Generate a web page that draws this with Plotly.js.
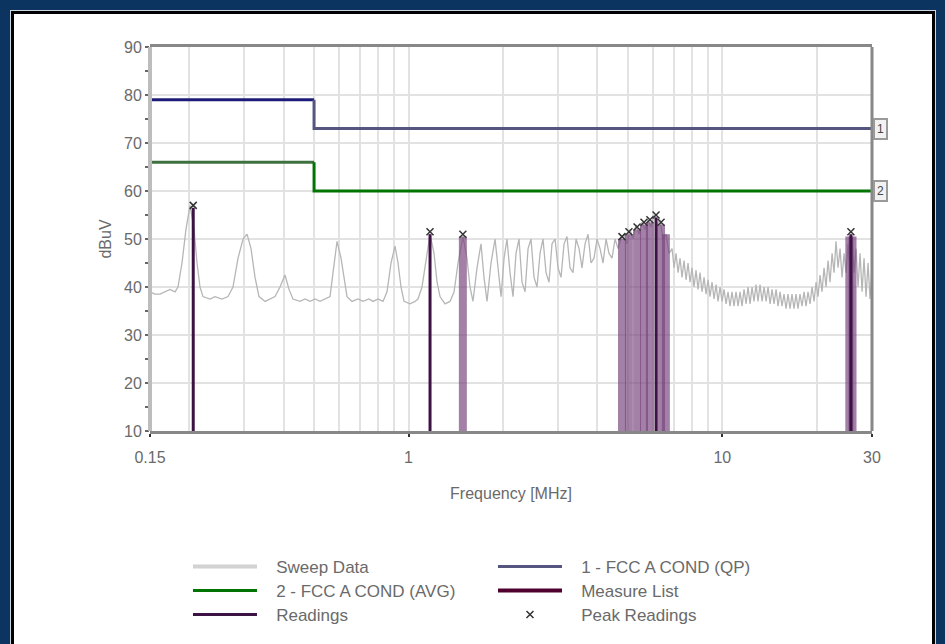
<!DOCTYPE html>
<html><head><meta charset="utf-8">
<script src="https://cdn.plot.ly/plotly-3.0.1.min.js"></script>
<style>
html,body{margin:0;padding:0;width:945px;height:644px;overflow:hidden;background:#0b3461;}
#frame{position:absolute;left:11px;top:11px;width:918px;height:640px;background:#fff;border:3px solid #000;box-shadow:0 0 0 1px #cfd6de;}
#chart{position:absolute;left:0;top:0;width:945px;height:644px;}
</style></head><body>
<div id="frame"></div><div id="chart"></div>
<script>
// ---- data (MHz / dBuV) ----
const sweepFreq = [0.150,0.1556,0.1614,0.1675,0.1737,0.1802,0.1842,0.1897,0.1953,0.2012,0.2072,0.2118,0.2165,0.2213,0.2330,0.2417,0.2544,0.2659,0.2758,0.2862,0.2969,0.3057,0.3148,0.3242,0.3338,0.3489,0.3619,0.3755,0.3894,0.4040,0.4160,0.4284,0.4510,0.4679,0.4853,0.5035,0.5223,0.5419,0.5621,0.5746,0.5918,0.6094,0.6230,0.6368,0.6605,0.6903,0.7161,0.7483,0.7706,0.7995,0.8293,0.8540,0.8794,0.9057,0.9259,0.9464,0.9676,1.011,1.049,1.072,1.104,1.137,1.171,1.206,1.233,1.260,1.307,1.356,1.397,1.438,1.492,1.536,1.570,
1.605,1.653,1.702,1.740,1.779,1.832,1.887,1.929,1.972,2.016,2.060,2.106,2.153,2.201,2.250,2.300,2.352,2.404,2.457,2.512,2.568,2.625,2.683,2.743,2.804,2.866,2.931,2.996,3.062,3.131,3.200,3.271,3.344,3.419,3.495,3.572,3.652,3.734,3.816,3.901,3.988,4.077,4.168,4.261,4.355,4.452,4.552,4.653,4.757,
4.863,4.971,5.081,5.194,5.310,5.428,5.549,5.673,5.799,5.928,6.060,6.195,6.333,6.474,6.618,6.765,
6.916,7.019,7.122,7.228,7.334,7.442,7.553,7.665,7.778,7.892,8.009,8.128,8.248,8.370,8.493,8.619,8.747,8.876,9.008,9.140,9.275,9.413,9.552,9.694,9.836,9.982,10.13,10.28,10.43,10.585,10.74,10.90,11.06,11.23,11.39,11.56,11.73,11.91,12.08,12.26,12.44,12.62,12.81,13.00,13.19,13.39,13.59,13.79,13.99,14.20,14.41,14.62,14.84,15.06,15.28,15.50,15.73,15.97,16.20,16.44,16.68,16.93,17.18,17.43,17.69,17.95,18.22,18.49,18.76,19.04,19.32,19.61,19.90,20.19,20.49,20.79,21.10,21.41,21.73,22.05,22.38,22.71,23.04,23.38,23.73,24.08,24.44,24.80,25.16,25.54,25.91,26.30,26.69,27.08,27.48,27.89,28.30,28.72,29.14,29.57,30.0];
const sweepLevel = [39,38.5,38.5,39,39.5,39,40,45,52,57,52,45,40,38,37.5,38,37.5,38,40,46,50,51,48,42,38,37,37.5,38,40,42.5,39.5,37.5,37,37.5,37,37.5,37,37.5,38,43,49.5,46,42,38,37,37.5,37,37.5,37,37.5,37,39,45,48.5,45,40,37,36.5,37,37.5,40,46,51,47,41,38,36.5,37,39,45,50.5,46,40,
37,44,49,42,37,45,50,44,38,46,50,43,38,47,50,41,39,48,50,42,40,47,50,43,41,49,50,44,42,49,50.5,44,43,50,48,44,49,51,45,46,50,48,45,50,47,46,50,48,50,
51,49,52,50,53,51,53.5,52,54,52.5,55,53,54,50,51,47,
48,44,47,43,46,42,45.5,41.5,45,41,44,40,43.5,39.5,43,39,42,38.5,41.5,38,41,37.5,40.5,37,40,37,39.5,36.5,39,36,39,36,39,36,39,36,39.5,36.5,40,36.5,40,37,40.5,37,40.5,37,40,37,40,36.5,39.5,36.5,39.5,36,39,36,38.5,35.5,38.5,35.5,38.5,35.5,38.5,35.5,38.5,36,39,36,39,36.5,40,37,41,38,42.5,39,44,40,45.5,41,47,43,49.5,44,48,42,47,43,49,44,50,43,48,40,47,39,46,38,45,37.5,44];
const qpFreq = [0.15, 0.5, 0.5, 30];
const qpLevel = [79, 79, 73, 73];
const avgFreq = [0.15, 0.5, 0.5, 30];
const avgLevel = [66, 66, 60, 60];
const readFreq = [0.206, 1.171, 6.15, 25.7];
const readLevel = [56.5, 51, 54.5, 51];
const measFreq = [1.49, 4.79, 5.04, 5.35, 5.63, 5.88, 6.38, 6.61, 25.4, 26.0];
const measLevel = [50.5, 50, 51, 52, 53, 53.5, 53, 51, 50.5, 50.5];
const peakFreq = [0.206, 1.171, 1.49, 4.79, 5.04, 5.35, 5.63, 5.88, 6.15, 6.38, 25.7];
const peakLevel = [57, 51.5, 51, 50.5, 51.5, 52.5, 53.5, 54, 55, 53.5, 51.5];
const floorLevel = 10;
const xTicks = [0.15, 1, 10, 30];
const xTickText = ['0.15', '1', '10', '30'];
const xMinorGrid = [0.2,0.3,0.4,0.5,0.6,0.7,0.8,0.9,2,3,4,5,6,7,8,9,20];
const limitLabels = ['1', '2'];
const legendNames = ['Sweep Data', '1 - FCC A COND (QP)', '2 - FCC A COND (AVG)', 'Measure List', 'Readings', 'Peak Readings'];

function sticks(fs, ls) {
  const x = [], y = [];
  fs.forEach((f, i) => { x.push(f, f, null); y.push(floorLevel, ls[i], null); });
  return {x, y};
}
const rd = sticks(readFreq, readLevel);
const ms = sticks(measFreq, measLevel);
const pad = s => '\u00a0\u00a0\u00a0' + s;

const FONT = 'Liberation Sans, Arial, sans-serif';
const TXT = '#6a6a6a';
const traces = [
  {x: sweepFreq, y: sweepLevel, mode: 'lines', line: {color: '#b6b6b6', width: 1.3}, showlegend: false, hoverinfo: 'skip'},
  {x: [null], y: [null], mode: 'lines', name: pad(legendNames[0]), line: {color: '#d2d2d2', width: 4}, legend: 'legend'},
  {x: qpFreq.slice(0, 2), y: qpLevel.slice(0, 2), mode: 'lines', line: {color: '#1c1c78', width: 3}, showlegend: false},
  {x: qpFreq.slice(1), y: qpLevel.slice(1), mode: 'lines', name: pad(legendNames[1]), line: {color: '#55557f', width: 3}, legend: 'legend'},
  {x: avgFreq.slice(0, 2), y: avgLevel.slice(0, 2), mode: 'lines', line: {color: '#3e7040', width: 3}, showlegend: false},
  {x: avgFreq.slice(1), y: avgLevel.slice(1), mode: 'lines', name: pad(legendNames[2]), line: {color: '#007400', width: 3}, legend: 'legend2'},
  {x: ms.x, y: ms.y, mode: 'lines', line: {color: 'rgba(120,70,126,0.68)', width: 8}, showlegend: false},
  {x: [null], y: [null], mode: 'lines', name: pad(legendNames[3]), line: {color: '#50002e', width: 4}, legend: 'legend2'},
  {x: rd.x, y: rd.y, mode: 'lines', name: pad(legendNames[4]), line: {color: '#3c1244', width: 3}, legend: 'legend3'},
  {x: peakFreq, y: peakLevel, mode: 'markers', name: pad(legendNames[5]), marker: {symbol: 'x-thin', size: 7, line: {color: '#333', width: 1.5}}, legend: 'legend3'}
];

const legBase = {orientation: 'h', xanchor: 'left', yanchor: 'middle', x: 0.0526, bgcolor: 'rgba(0,0,0,0)',
  font: {family: FONT, size: 17, color: TXT}, itemwidth: 64, entrywidth: 226, entrywidthmode: 'pixels', traceorder: 'normal'};

const layout = {
  width: 945, height: 644,
  margin: {l: 150, r: 73, t: 47, b: 212},
  paper_bgcolor: 'rgba(0,0,0,0)', plot_bgcolor: '#fff',
  font: {family: FONT, size: 16, color: TXT},
  xaxis: {type: 'log', range: [Math.log10(0.15), Math.log10(30)], tickvals: xTicks, ticktext: xTickText,
    showgrid: true, gridcolor: '#e2e2e2', gridwidth: 2, zeroline: false,
    ticks: 'outside', ticklen: 3, tickwidth: 2, tickcolor: '#333', ticklabelstandoff: 7,
    tickfont: {size: 16, color: TXT},
    showline: true, linecolor: '#888', linewidth: 3, mirror: true,
    minor: {tickvals: xMinorGrid, showgrid: true, gridcolor: '#e2e2e2', gridwidth: 2, ticks: ''},
    title: {text: 'Frequency [MHz]', standoff: 23, font: {size: 16, color: TXT}}},
  yaxis: {range: [10, 90], dtick: 10, showgrid: true, gridcolor: '#e2e2e2', gridwidth: 2, zeroline: false,
    ticks: 'outside', ticklen: 4, tickwidth: 2, tickcolor: '#666', showline: false,
    tickfont: {size: 16, color: TXT},
    minor: {dtick: 5, ticks: 'outside', ticklen: 4, tickwidth: 2, tickcolor: '#666', showgrid: false},
    title: {text: 'dBuV', standoff: 8, font: {size: 16, color: TXT}}},
  shapes: [
    {type: 'line', xref: 'paper', yref: 'paper', x0: 0, x1: 0, y0: 0, y1: 1, line: {color: '#bdbdbd', width: 4}},
    {type: 'line', xref: 'paper', yref: 'paper', x0: 1, x1: 1, y0: 0, y1: 1, line: {color: '#888', width: 3}}
  ],
  annotations: [
    {xref: 'paper', x: 1, xanchor: 'left', xshift: 1, y: qpLevel[3], yref: 'y', text: limitLabels[0], showarrow: false,
     bgcolor: '#f2f2f2', bordercolor: '#9a9a9a', borderwidth: 2, borderpad: 2, font: {size: 12, color: '#444'}},
    {xref: 'paper', x: 1, xanchor: 'left', xshift: 1, y: avgLevel[3], yref: 'y', text: limitLabels[1], showarrow: false,
     bgcolor: '#f2f2f2', bordercolor: '#9a9a9a', borderwidth: 2, borderpad: 2, font: {size: 12, color: '#444'}}
  ],
  legend: Object.assign({}, legBase, {y: -0.3506}),
  legend2: Object.assign({}, legBase, {y: -0.413}),
  legend3: Object.assign({}, legBase, {y: -0.4753})
};
Plotly.newPlot('chart', traces, layout, {displayModeBar: false, staticPlot: true});
</script>
</body></html>
